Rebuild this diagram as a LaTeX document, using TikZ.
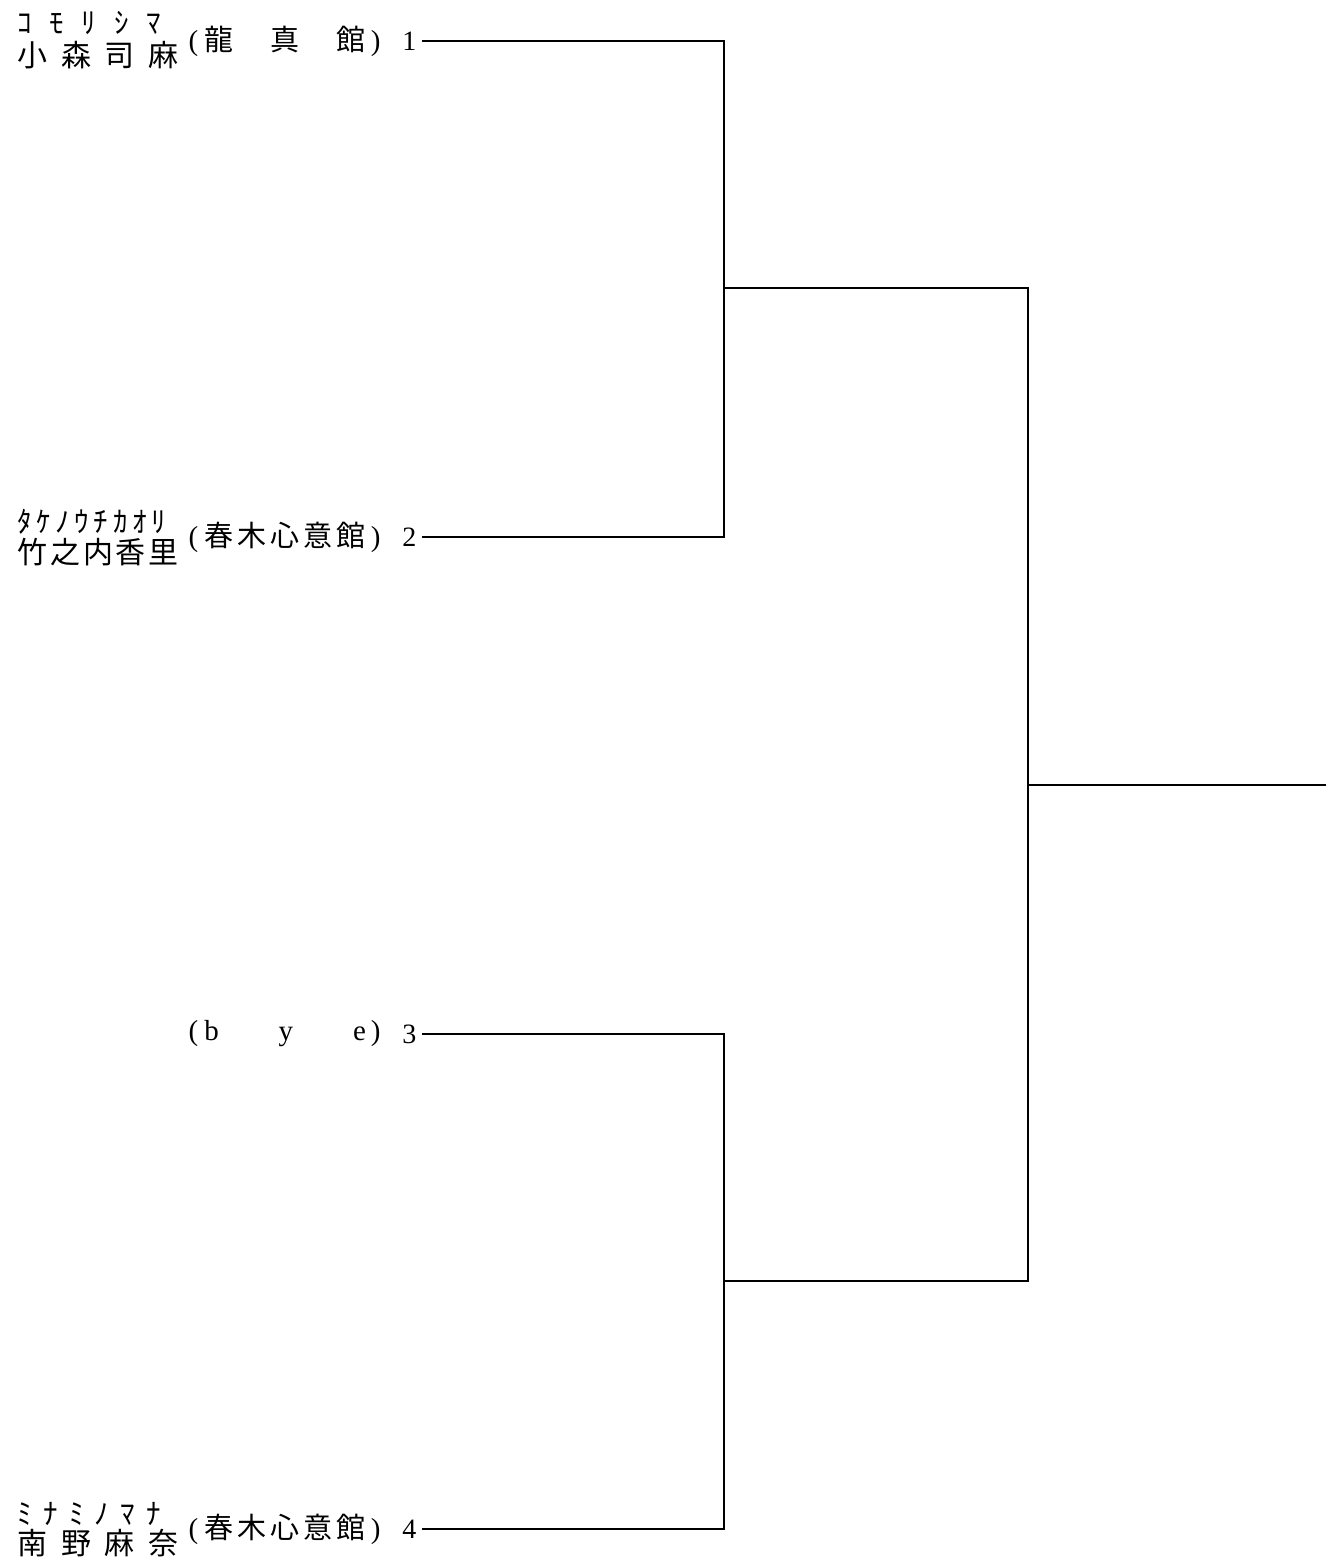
\documentclass[tikz,border=0pt]{standalone}
\usepackage{fontspec}
\setmainfont{Liberation Serif}
\newfontfamily\jp{Noto Sans CJK JP}
\newcommand{\spread}[2]{\makebox[#1][s]{#2}}

\begin{document}
\begin{tikzpicture}[x=1pt,y=-1pt,line width=1.3pt,
  player/.style={anchor=west,inner sep=0pt,font=\jp\fontsize{30}{30}\selectfont},
  kana/.style={anchor=west,inner sep=0pt,font=\jp\fontsize{29}{29}\selectfont},
  dojo/.style={anchor=west,inner sep=0pt,font=\fontsize{29}{29}\selectfont},
  seed/.style={anchor=east,inner sep=5pt,font=\fontsize{28}{28}\selectfont}]
  \useasboundingbox (0,0) rectangle (1326,1561);

  % 1
  \node[kana] (ruby1) at (17,23) {\spread{143pt}{ｺ\hfill ﾓ\hfill ﾘ\hfill ｼ\hfill ﾏ}};
  \node[player] (name1) at (17,55) {\spread{161pt}{小\hfill 森\hfill 司\hfill 麻}};
  \node[dojo] (club1) at (188,41) {\spread{192pt}{(\hspace{6pt}{\jp 龍\hfill 真\hfill 館}\hspace{5pt})}};
  \node[seed] (n1) at (422,41) {1};

  % 2
  \node[kana] (ruby2) at (17,522) {\spread{148pt}{ﾀ\hfill ｹ\hfill ﾉ\hfill ｳ\hfill ﾁ\hfill ｶ\hfill ｵ\hfill ﾘ}};
  \node[player] (name2) at (17,552) {\spread{161pt}{竹\hfill 之\hfill 内\hfill 香\hfill 里}};
  \node[dojo] (club2) at (188,537) {\spread{192pt}{(\hspace{6pt}{\jp 春\hfill 木\hfill 心\hfill 意\hfill 館}\hspace{5pt})}};
  \node[seed] (n2) at (422,537) {2};

  % 3
  \node[dojo] (club3) at (188,1034) {\spread{192pt}{(\hspace{6pt}b\hfill y\hfill e\hspace{5pt})}};
  \node[seed] (n3) at (422,1034) {3};

  % 4
  \node[kana] (ruby4) at (17,1514) {\spread{143pt}{ﾐ\hfill ﾅ\hfill ﾐ\hfill ﾉ\hfill ﾏ\hfill ﾅ}};
  \node[player] (name4) at (17,1543) {\spread{161pt}{南\hfill 野\hfill 麻\hfill 奈}};
  \node[dojo] (club4) at (188,1529) {\spread{192pt}{(\hspace{6pt}{\jp 春\hfill 木\hfill 心\hfill 意\hfill 館}\hspace{5pt})}};
  \node[seed] (n4) at (422,1529) {4};

  % 組み合わせ
  \coordinate (m12) at (724,288);
  \coordinate (m34) at (724,1281);
  \coordinate (fin) at (1028,785);
  \coordinate (win) at (1326,785);

  \draw (n1.east) -| (m12) |- (n2.east);
  \draw (n3.east) -| (m34) |- (n4.east);
  \draw (m12) -| (fin) |- (m34);
  \draw (fin) -- (win);
\end{tikzpicture}
\end{document}
